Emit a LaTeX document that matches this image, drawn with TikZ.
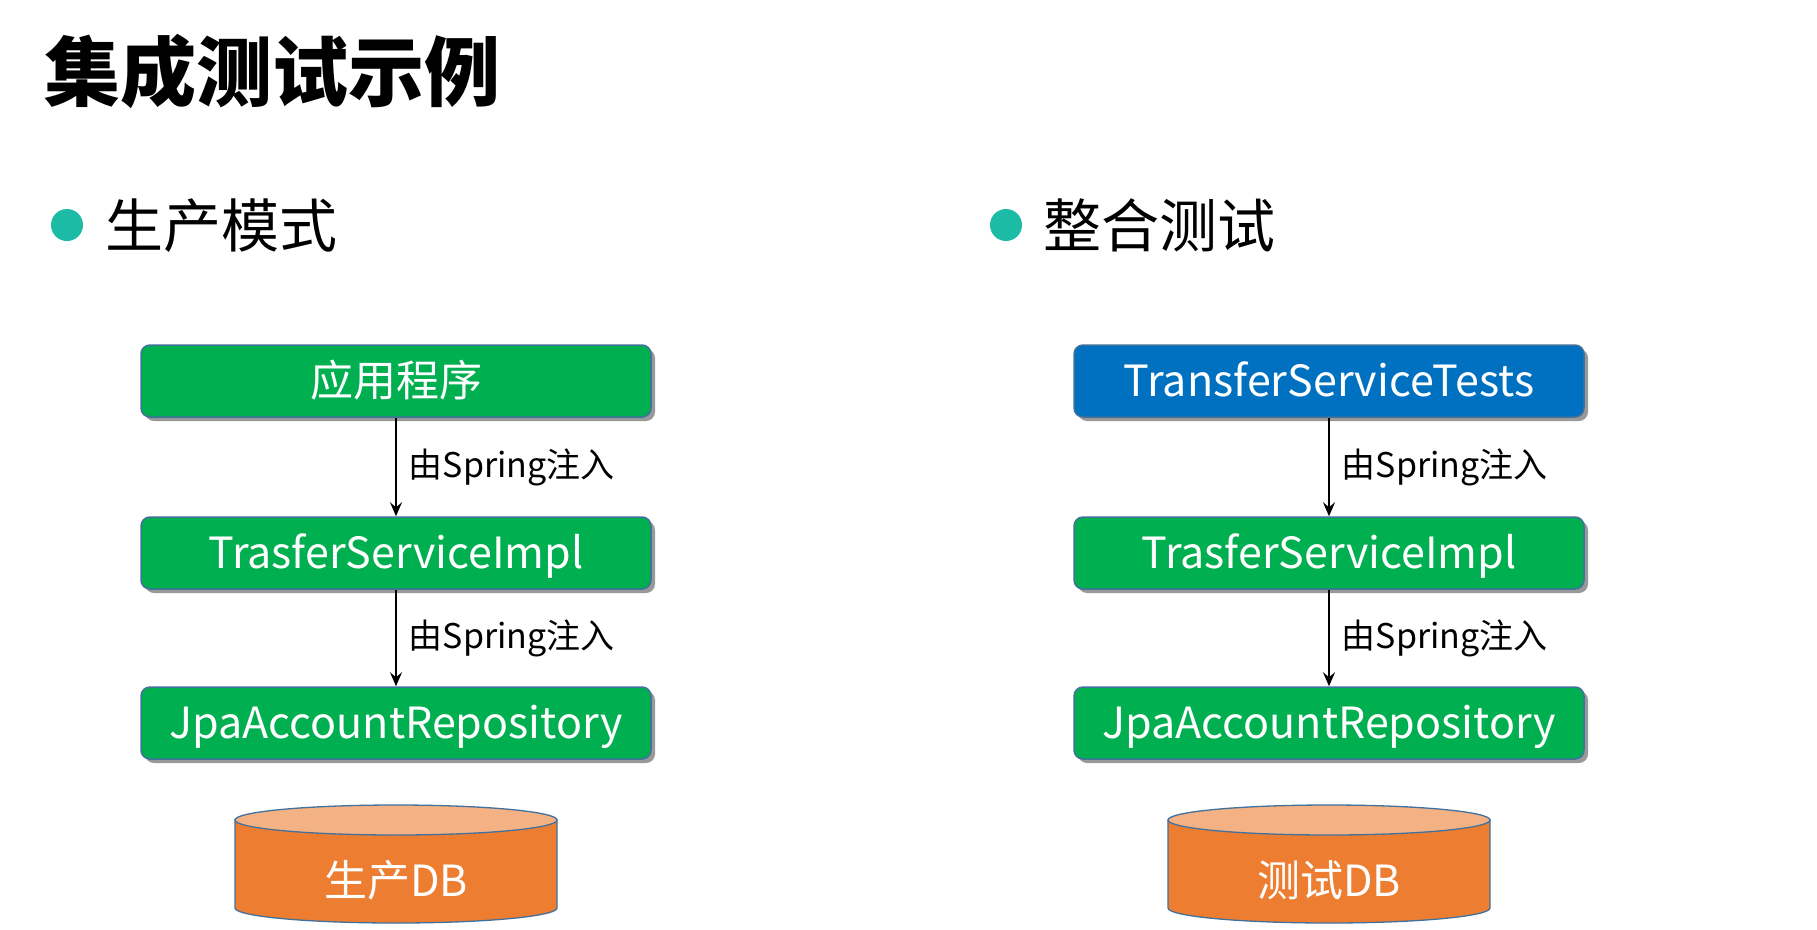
\documentclass[tikz,border=0pt]{standalone}
\usepackage{fontspec}
\setmainfont{Noto Sans CJK SC}
\usetikzlibrary{arrows.meta,shadows}
\definecolor{boxgreen}{HTML}{00B050}
\definecolor{boxblue}{HTML}{0070C0}
\definecolor{edgeblue}{HTML}{41719C}
\definecolor{dbbody}{HTML}{ED7D31}
\definecolor{dbtop}{HTML}{F4B183}
\definecolor{bulletc}{HTML}{1BBBA6}
\begin{document}
\begin{tikzpicture}[x=1pt,y=-1pt,
  comp/.style={draw=edgeblue, line width=1.5pt, rounded corners=9pt,
    minimum width=510pt, minimum height=72pt, inner sep=0pt, text=white,
    font=\fontsize{43}{52}\selectfont, text height=37.4pt, text depth=5.6pt,
    drop shadow={shadow xshift=4pt, shadow yshift=-4pt, fill=black!40, opacity=1}},
  arr/.style={draw=black, line width=1.7pt, -{Stealth[length=14pt,width=12pt,inset=5pt]}},
  lbl/.style={anchor=west, xshift=12pt, inner sep=0pt, font=\fontsize{34}{40}\selectfont},
  dbtext/.style={inner sep=0pt, text=white, font=\fontsize{43}{50}\selectfont, text height=37pt, text depth=5pt},
  dbshape/.style={draw=edgeblue, line width=1.3pt},
  bul/.style={circle, fill=bulletc, minimum size=32pt, inner sep=0pt},
  sect/.style={anchor=base west, inner sep=0pt, font=\fontsize{58}{64}\selectfont}
]
\useasboundingbox (0,0) rectangle (1817,929);
\fill[white] (0,0) rectangle (1817,929);

% title
\node[anchor=base west, inner sep=0pt, font=\fontsize{76}{80}\selectfont\bfseries] (title) at (44,100) {集成测试示例};

% section headers
\node[bul] (b1) at (67,225) {};
\node[sect] (s1) at (105,247) {生产模式};
\node[bul] (b2) at (1006,225) {};
\node[sect] (s2) at (1043,247) {整合测试};

% left column
\node[comp, fill=boxgreen] (appL) at (396,381) {应用程序};
\node[comp, fill=boxgreen] (implL) at (396,553) {TrasferServiceImpl};
\node[comp, fill=boxgreen] (repoL) at (396,723) {JpaAccountRepository};
\draw[arr] (appL) -- (implL) node[lbl, midway] (l1) {由Spring注入};
\draw[arr] (implL) -- (repoL) node[lbl, midway] (l2) {由Spring注入};

% right column
\node[comp, fill=boxblue] (appR) at (1329,381) {TransferServiceTests};
\node[comp, fill=boxgreen] (implR) at (1329,553) {TrasferServiceImpl};
\node[comp, fill=boxgreen] (repoR) at (1329,723) {JpaAccountRepository};
\draw[arr] (appR) -- (implR) node[lbl, midway] (l3) {由Spring注入};
\draw[arr] (implR) -- (repoR) node[lbl, midway] (l4) {由Spring注入};

% databases
\foreach \cx/\nm/\txt in {396/dbL/生产DB, 1329/dbR/测试DB}{
  \filldraw[dbshape, fill=dbbody] (\cx-161,820) -- (\cx-161,908)
    arc[start angle=180, end angle=360, x radius=161pt, y radius=15pt]
    -- (\cx+161,820) -- cycle;
  \filldraw[dbshape, fill=dbtop] (\cx,820) ellipse [x radius=161pt, y radius=15pt];
  \node[dbtext] (\nm) at (\cx,880) {\txt};
}
\end{tikzpicture}
\end{document}
